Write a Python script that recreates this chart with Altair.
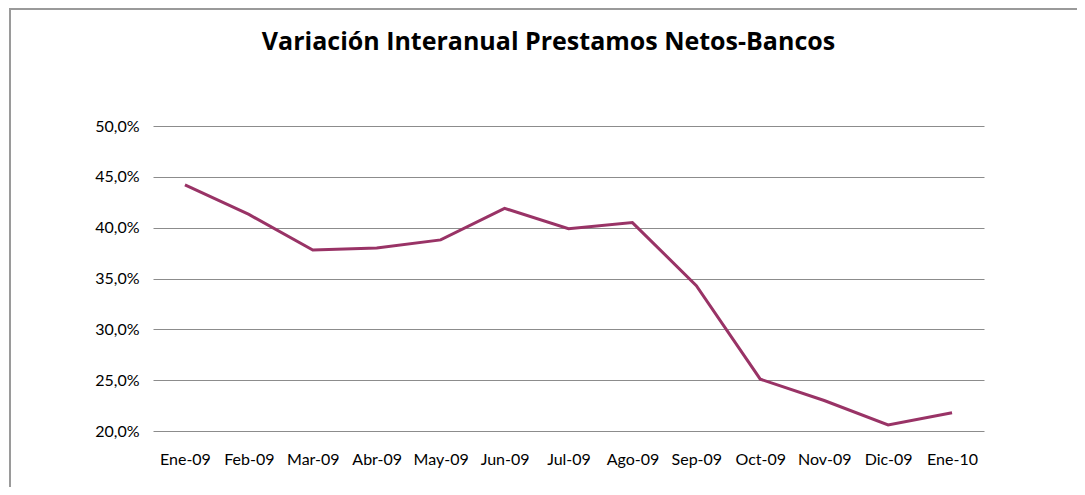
import altair as alt
import pandas as pd

months = ["Ene-09", "Feb-09", "Mar-09", "Abr-09", "May-09", "Jun-09", "Jul-09",
          "Ago-09", "Sep-09", "Oct-09", "Nov-09", "Dic-09", "Ene-10"]
variacion = [0.442, 0.413, 0.378, 0.380, 0.388, 0.419, 0.399,
             0.405, 0.343, 0.251, 0.230, 0.206, 0.218]
y_ticks = [0.20, 0.25, 0.30, 0.35, 0.40, 0.45, 0.50]

df = pd.DataFrame({"mes": months, "valor": variacion})

FONT = "Lato"

line = alt.Chart(df).mark_line(color="#993366", strokeWidth=3, strokeJoin="miter").encode(
    x=alt.X("mes:N", sort=months,
            scale=alt.Scale(type="point", padding=0.5),
            axis=alt.Axis(title=None, labelAngle=0, ticks=False, domain=False, grid=False,
                          labelFont=FONT, labelFontSize=16, labelColor="#000",
                          labelPadding=20)),
    y=alt.Y("valor:Q",
            scale=alt.Scale(domain=[0.20, 0.50], nice=False, zero=False),
            axis=alt.Axis(title=None, values=y_ticks, ticks=False, domain=False,
                          grid=True, gridColor="#8c8c8c", gridWidth=1, gridOpacity=1,
                          labelFont=FONT, labelFontSize=16, labelColor="#000",
                          labelPadding=14,
                          labelExpr="replace(format(datum.value, '.1%'), '.', ',')")),
)

border_left = alt.Chart(df).mark_rule(color="#9a9a9a", strokeWidth=2).encode(
    x=alt.value(-143), y=alt.value(-117), y2=alt.value(380))
border_top = alt.Chart(df).mark_rule(color="#9a9a9a", strokeWidth=2).encode(
    x=alt.value(-144), x2=alt.value(940), y=alt.value(-117))

chart = alt.layer(border_left, border_top, line).properties(
    width=831, height=305,
    padding={"left": 145, "top": 118, "right": 93, "bottom": 56},
    autosize=alt.AutoSizeParams(type="none"),
    title=alt.TitleParams(
        "Variación Interanual Prestamos Netos-Bancos",
        font="Open Sans", fontSize=25, fontWeight="bold", color="#000",
        anchor="middle", dx=-20, dy=67, offset=0, baseline="alphabetic"),
).configure_view(stroke=None)

chart.save("out.html", embed_options={"renderer": "svg", "actions": False})
